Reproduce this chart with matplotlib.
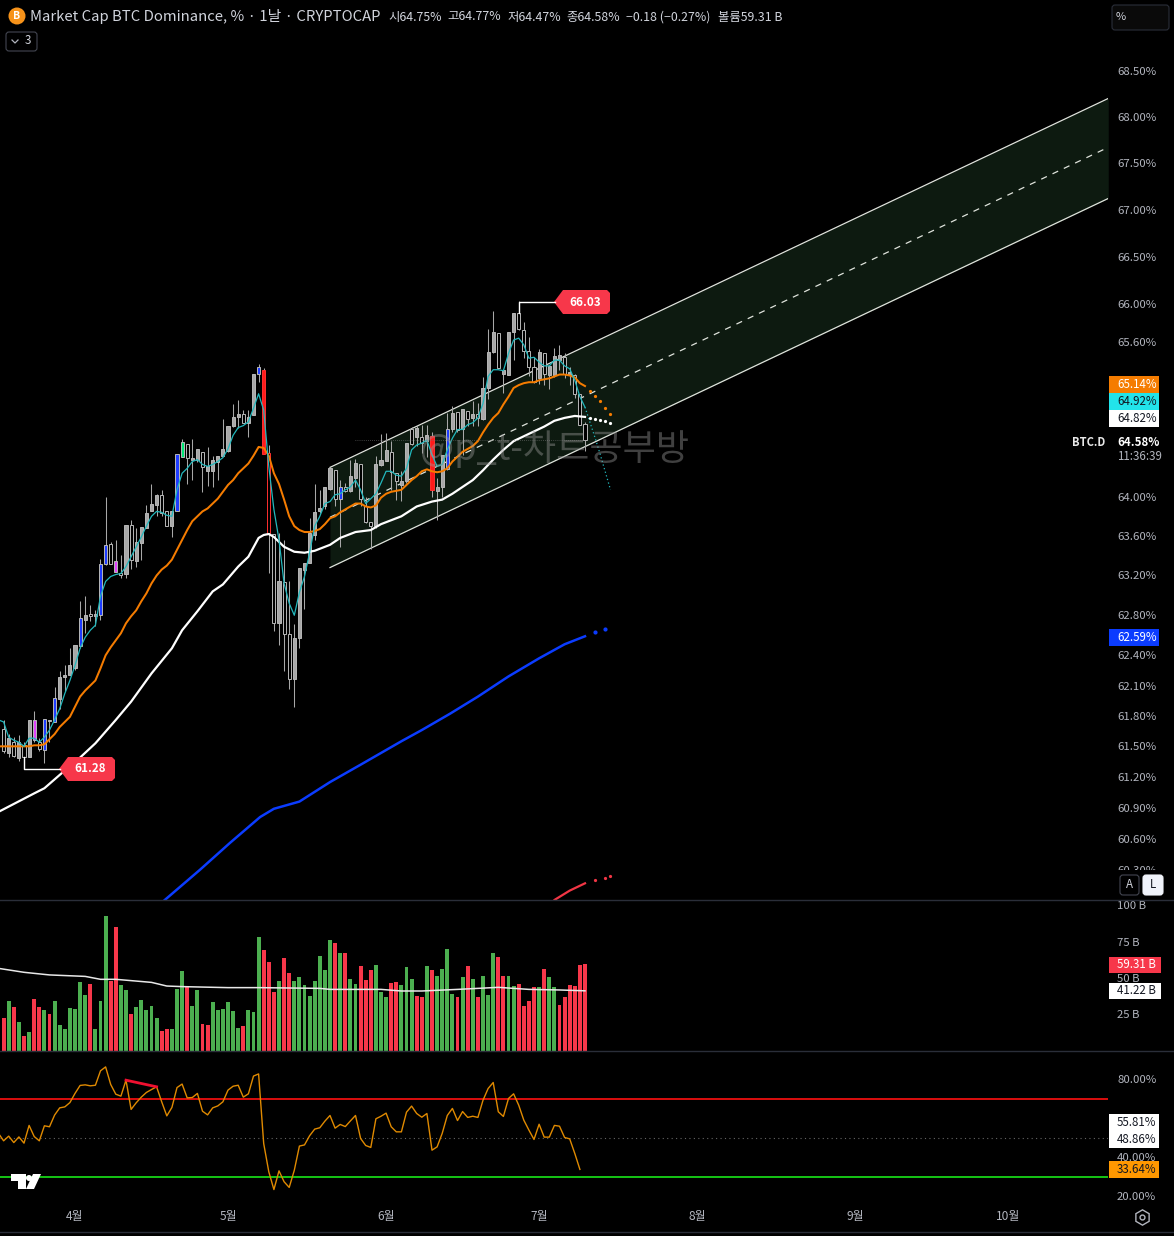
import numpy as np
import matplotlib
matplotlib.use("Agg")
import matplotlib.pyplot as plt
from matplotlib.patches import Rectangle, Polygon, Circle, FancyBboxPatch
from matplotlib.ticker import NullLocator

plt.rcParams['font.family'] = ['Noto Sans CJK KR', 'DejaVu Sans']

# daily candles, index 0 is the leftmost bar on screen
opens = [61.67,61.43,61.54,61.39,61.51,61.40,61.56,61.54,61.46,61.75,
 61.74,61.97,62.18,62.20,62.27,62.49,62.75,62.81,62.79,62.80,
 63.32,63.52,63.24,63.23,63.22,63.71,63.35,63.53,63.68,63.85,
 63.91,64.02,63.85,63.70,63.85,64.41,64.54,64.38,64.38,64.46,
 64.26,64.26,64.36,64.42,64.47,64.73,64.82,64.85,64.76,64.84,
 65.27,65.31,64.45,63.62,62.72,63.13,62.61,62.16,62.57,63.26,
 63.33,63.61,63.85,63.90,64.08,64.27,63.98,64.10,64.06,64.19,
 64.33,63.90,63.74,63.70,64.32,64.37,64.46,64.24,64.12,64.16,
 64.70,64.61,64.61,64.57,64.62,64.06,64.10,64.28,64.69,64.87,
 64.69,64.88,64.81,64.85,64.80,65.12,65.49,65.69,65.27,65.26,
 65.70,65.90,65.73,65.51,65.34,65.22,65.48,65.25,65.25,65.41,
 65.44,65.26,65.26,65.06,64.75]
closes = [61.45,61.58,61.41,61.54,61.40,61.76,61.76,61.47,61.77,61.76,
 61.98,62.18,62.20,62.30,62.50,62.77,62.80,62.79,62.81,63.32,
 63.51,63.32,63.35,63.21,63.71,63.36,63.54,63.69,63.83,63.93,
 64.02,63.83,63.70,63.85,64.44,64.56,64.40,64.40,64.49,64.30,
 64.31,64.38,64.42,64.49,64.73,64.82,64.85,64.76,64.82,65.27,
 65.34,64.44,63.63,62.72,63.14,62.61,62.16,62.57,63.28,63.33,
 63.63,63.84,63.88,64.10,64.29,63.98,64.10,64.06,64.21,64.34,
 63.98,63.74,63.70,64.33,64.38,64.48,64.25,64.16,64.16,64.55,
 64.54,64.71,64.55,64.63,64.07,64.10,64.43,64.70,64.86,64.68,
 64.90,64.80,64.85,64.81,65.12,65.49,65.70,65.33,65.31,65.70,
 65.90,65.74,65.51,65.34,65.18,65.49,65.27,65.35,65.45,65.46,
 65.27,65.29,65.06,64.74,64.58]
highs = [61.76,61.62,61.59,61.61,61.54,61.76,61.85,61.58,61.77,61.76,
 62.09,62.24,62.30,62.47,62.50,62.94,62.99,62.90,62.85,63.37,
 64.00,63.54,63.56,63.41,63.71,63.76,63.68,63.69,63.91,64.13,
 64.03,64.07,63.85,63.85,64.44,64.59,64.54,64.59,64.49,64.46,
 64.51,64.42,64.42,64.80,64.73,64.95,65.00,64.89,64.89,65.27,
 65.37,65.33,64.53,63.62,63.63,63.56,63.14,62.71,63.28,63.33,
 63.78,64.13,64.07,64.10,64.29,64.27,64.17,64.14,64.38,64.39,
 64.33,64.00,63.74,64.42,64.64,64.65,64.57,64.24,64.26,64.55,
 64.72,64.74,64.74,64.74,64.66,64.19,64.43,64.86,64.93,64.87,
 64.90,64.88,64.98,64.96,65.23,65.74,65.93,65.69,65.31,65.70,
 65.90,66.03,65.81,65.65,65.44,65.53,65.48,65.35,65.54,65.57,
 65.48,65.34,65.27,65.06,64.77]
lows = [61.43,61.40,61.40,61.36,61.28,61.40,61.54,61.45,61.34,61.54,
 61.74,61.87,62.05,62.20,62.25,62.47,62.62,62.74,62.69,62.75,
 63.31,63.32,63.24,63.17,63.17,63.27,63.29,63.36,63.68,63.85,
 63.80,63.80,63.70,63.59,63.85,64.41,64.13,64.17,64.36,64.05,
 64.11,64.10,64.17,64.42,64.46,64.72,64.71,64.76,64.61,64.84,
 65.18,64.44,63.23,62.64,62.50,62.24,62.07,61.89,62.47,62.86,
 63.33,63.56,63.83,63.87,64.07,63.90,63.49,64.05,64.05,64.10,
 63.90,63.73,63.47,63.68,64.31,64.37,64.07,63.97,63.96,64.14,
 64.53,64.52,64.45,64.41,64.00,63.76,64.00,64.27,64.66,64.66,
 64.43,64.73,64.73,64.73,64.79,65.01,65.48,65.32,65.07,65.26,
 65.41,65.73,65.43,65.24,65.17,65.16,65.15,65.11,65.23,65.31,
 65.22,65.15,65.02,64.74,64.47]
# bars painted in a special colour
special = {6:'#e040fb', 8:'#1e3cff', 10:'#1e3cff', 15:'#1e3cff', 19:'#1e3cff', 20:'#1e3cff',
           22:'#e040fb', 34:'#1e3cff', 35:'#00e676', 50:'#1e3cff', 51:'#ff1a1a', 66:'#1e3cff',
           84:'#ff1a1a', 87:'#1e3cff'}

# the averages start one bar before the first candle
ema_fast = [61.76,61.74,61.59,61.56,61.54,61.50,61.58,61.58,61.54,61.59,61.66,
 61.76,61.87,62.02,62.15,62.30,62.47,62.58,62.65,62.70,62.99,
 63.14,63.19,63.21,63.22,63.29,63.39,63.49,63.59,63.70,63.80,
 63.85,63.84,63.81,63.80,64.07,64.24,64.29,64.36,64.38,64.33,
 64.31,64.33,64.36,64.40,64.49,64.63,64.71,64.73,64.77,64.91,
 65.06,64.89,64.31,63.87,63.56,63.12,62.92,62.80,63.03,63.19,
 63.43,63.70,63.80,63.93,63.95,64.02,64.03,64.07,64.10,64.17,
 64.07,63.93,63.98,64.03,64.14,64.26,64.26,64.22,64.21,64.29,
 64.48,64.53,64.55,64.58,64.43,64.31,64.33,64.48,64.60,64.69,
 64.69,64.74,64.76,64.81,64.96,65.24,65.31,65.31,65.30,65.48,
 65.62,65.64,65.57,65.43,65.44,65.39,65.35,65.35,65.41,65.41,
 65.35,65.32,65.20,65.03,64.92]
ema_mid = [61.50,61.50,61.50,61.50,61.50,61.50,61.50,61.51,61.51,61.52,61.57,
 61.62,61.69,61.74,61.79,61.89,61.99,62.05,62.10,62.15,62.27,
 62.40,62.48,62.55,62.62,62.72,62.79,62.85,62.94,63.02,63.12,
 63.20,63.26,63.30,63.36,63.46,63.56,63.66,63.75,63.80,63.85,
 63.88,63.93,63.98,64.05,64.12,64.17,64.24,64.29,64.34,64.42,
 64.51,64.50,64.42,64.24,64.13,63.97,63.80,63.70,63.66,63.64,
 63.64,63.65,63.67,63.72,63.78,63.80,63.84,63.87,63.90,63.93,
 63.93,63.90,63.89,63.91,63.99,64.03,64.05,64.06,64.07,64.12,
 64.17,64.21,64.26,64.28,64.26,64.25,64.26,64.29,64.36,64.41,
 64.46,64.49,64.52,64.57,64.66,64.74,64.81,64.86,64.95,65.03,
 65.12,65.15,65.17,65.18,65.18,65.20,65.21,65.22,65.24,65.26,
 65.26,65.25,65.23,65.17,65.14]
ema_slow_idx = [-1,6,8,11,15,18,22,25,29,33,35,38,41,43,46,48,50,51,52,53,55,57,59,61,62,64,66,69,72,74,76,78,81,84,86,88,92,94,96,98,100,102,104,106,108,110,112,114]
ema_slow = [60.86,61.04,61.09,61.22,61.39,61.53,61.76,61.94,62.22,62.47,62.65,62.84,63.04,63.11,63.29,63.39,63.58,63.61,63.62,63.59,63.49,63.44,63.43,63.45,63.47,63.51,63.58,63.64,63.66,63.72,63.76,63.80,63.90,63.95,63.97,64.03,64.17,64.27,64.38,64.48,64.57,64.62,64.67,64.72,64.78,64.81,64.83,64.82]
ma_blue_idx = [31.6,38.5,44.4,50.3,53,58,64,70,78,82,87.5,93,99,105,110,114]
ma_blue = [60.01,60.30,60.56,60.81,60.89,60.96,61.15,61.32,61.55,61.66,61.82,61.99,62.19,62.37,62.51,62.59]
ma_red_idx = [106,108,111,114]
ma_red = [59.9,60.01,60.10,60.17]

# projected points after the last bar
proj_idx = [115,116,117,118,119]
proj_fast = [64.76,64.60,64.43,64.25,64.07]
proj_mid = [65.09,65.04,64.98,64.91,64.85]
proj_slow = [64.81,64.80,64.79,64.78,64.76]
proj_blue_idx = [116,118]
proj_blue = [62.63,62.66]
proj_red_idx = [116,118,119]
proj_red = [60.20,60.22,60.24]

# parallel channel, start and end
chan_x = [64,216.6]
chan_up = [64.30,68.20]
chan_mid = [63.79,67.67]
chan_lo = [63.28,67.12]

# volume also has one extra bar on the left edge
volume = [25.8,22.4,34.2,30.1,19.9,10.3,13.0,35.6,30.1,28.1,25.3,
 34.2,17.8,15.1,29.5,28.8,47.3,38.4,45.9,15.1,34.2,
 92.5,47.9,84.9,45.2,41.8,25.3,30.1,34.9,28.1,30.8,
 22.6,13.7,15.1,15.1,42.5,54.8,43.8,30.8,41.8,18.5,
 17.8,33.6,28.1,28.8,33.6,27.4,15.8,17.1,28.1,26.7,
 78.1,69.2,61.0,40.4,47.9,63.7,53.4,47.9,50.7,45.2,
 37.7,47.9,65.1,55.5,76.0,74.0,67.1,67.1,49.3,45.9,
 58.2,48.6,55.5,58.9,40.4,37.0,46.6,47.3,45.2,57.5,
 49.3,37.7,37.0,58.2,55.5,51.4,56.2,69.9,39.0,37.0,
 50.7,58.2,49.3,37.0,51.4,38.4,67.1,64.4,51.4,51.4,
 44.5,45.9,30.8,34.2,43.8,43.8,56.2,50.7,43.8,31.5,
 37.0,45.2,44.5,58.9,59.31]
vol_dir = ("r" "rgrgrgrrgr" "gggggggrgg" "grrggrgggg" "grrgggrggr" "rggggggrgg"
           "grrrgrrggg" "gggggrgrgg" "rrrgggrrgg" "grrgrggggr" "grgrgggrrg"
           "grrrrgrggr" "rrrrr")
vol_ma_idx = [-1,4,9,16,19,22,29,32,35,44,50,62,64,74,78,82,89,97,103,109,114]
vol_ma = [56.6,53.9,52.1,51.1,49.1,49.1,47.0,44.5,44.1,43.4,43.4,42.9,42.2,42.2,41.1,41.1,42.2,43.6,42.2,41.8,41.22]

# rsi starts one bar before the first candle and stops one bar before the last
rsi = [52.1,48.3,50.7,47.4,50.3,47.1,56.2,50.5,48.3,56.0,55.5,
 61.5,65.2,65.7,67.9,72.6,76.7,77.0,76.5,76.8,84.2,
 86.2,77.2,72.2,71.2,79.4,64.4,67.8,70.7,73.1,74.6,
 76.0,68.3,61.1,65.4,75.6,77.4,70.3,70.5,72.6,63.5,
 61.6,65.2,66.2,68.3,74.3,76.3,76.8,70.7,72.4,81.5,
 82.6,46.9,32.4,23.3,32.9,27.3,24.4,33.2,45.6,46.2,
 50.9,54.3,55.0,58.4,61.3,54.8,56.7,55.6,58.5,61.3,
 49.5,45.9,44.9,59.6,60.9,62.5,55.5,52.9,52.9,63.0,
 66.1,62.3,60.4,62.3,43.5,45.2,52.1,61.3,64.9,58.7,
 63.3,60.3,60.9,60.3,69.1,75.1,78.2,63.2,60.8,70.0,
 72.4,66.6,58.9,53.8,49.0,56.8,50.2,50.2,56.2,55.8,
 50.0,49.3,41.8,33.64]
rsi_div_idx = [24,30]
rsi_div = [79.4,76.0]

price_ticks = [68.5,68.0,67.5,67.0,66.5,66.0,65.6,64.0,63.6,63.2,62.8,62.4,62.1,61.8,61.5,61.2,60.9,60.6,60.3]
vol_ticks = [25,50,75,100]
rsi_ticks = [20,40,60,80]
month_idx = [14,44,75,105,136,167,197]
month_labels = ['4월','5월','6월','7월','8월','9월','10월']

W, H = 1174, 1236
BG = '#000000'
GRAY = '#b2b5be'
RED = '#f7374a'
GREEN = '#4caf50'
ORANGE = '#f57c00'
xlim = (-3.6/5.1, (1108-3.6)/5.1)

def pane(top, bottom):
    a = fig.add_axes([0, 1-bottom/H, 1108/W, (bottom-top)/H])
    a.set_facecolor(BG)
    for s in a.spines.values():
        s.set_visible(False)
    a.set_xlim(*xlim)
    a.yaxis.tick_right()
    a.tick_params(axis='y', length=0, pad=6.5, labelcolor=GRAY, labelsize=8.2)
    a.set_xticks([])
    return a

fig = plt.figure(figsize=(W/100, H/100), dpi=100, facecolor=BG)

# price pane
ax = pane(0, 900)
ax.set_yscale('log')
ax.set_ylim(60.01, 69.28)
ax.yaxis.set_minor_locator(NullLocator())
ax.set_yticks(price_ticks)
ax.set_yticklabels([f'{v:.2f}%' for v in price_ticks])

ax.fill_between(chan_x, chan_lo, chan_up, color='#0d1a10', lw=0, zorder=1)
ax.plot(chan_x, chan_up, color='#dfe3dc', lw=0.9, zorder=2)
ax.plot(chan_x, chan_lo, color='#dfe3dc', lw=0.9, zorder=2)
ax.plot(chan_x, chan_mid, color='#dfe3dc', lw=0.9, ls=(0, (5, 5)), zorder=2)

xs = np.arange(len(opens))
ema_x = np.arange(-1, len(opens))
ax.vlines(xs, lows, highs, color='#a8a8a8', lw=0.75, zorder=3)
for i in xs:
    o, c = opens[i], closes[i]
    up = c >= o
    face = special.get(i, '#a8a8a8' if up else BG)
    edge = '#b8b8b8'
    if i in (51, 52, 84):
        edge = '#ff3030'
    ax.bar(i, max(abs(c-o), 0.012), bottom=min(o, c), width=0.6, facecolor=face, edgecolor=edge, lw=0.7, zorder=4)

ax.plot(ma_red_idx, ma_red, color='#f23645', lw=1.6, zorder=5)
ax.plot(ma_blue_idx, ma_blue, color='#0b3cff', lw=1.8, zorder=5)
ax.plot(ema_slow_idx, ema_slow, color='white', lw=1.6, zorder=6)
ax.plot(ema_x, ema_mid, color='#f57c00', lw=1.45, zorder=6)
ax.plot(ema_x, ema_fast, color='#22b8bd', lw=0.9, zorder=6)

ax.plot([114]+proj_idx, [ema_fast[-1]]+proj_fast, color='#22b8bd', lw=0.9, ls=(0, (1, 2)), zorder=6)
ax.plot(proj_idx, proj_mid, ls='', marker='o', ms=1.3, color='#f57c00', zorder=6)
ax.plot(proj_idx, proj_slow, ls='', marker='o', ms=1.3, color='white', zorder=6)
ax.plot(proj_blue_idx, proj_blue, ls='', marker='o', ms=2, color='#0b3cff', zorder=6)
ax.plot(proj_red_idx, proj_red, ls='', marker='o', ms=1.3, color='#f23645', zorder=6)
ax.plot([69, 114], [closes[-1], closes[-1]], color='#777777', lw=0.5, ls=(0, (1, 2)), zorder=6)

# volume pane
vx = pane(901, 1051)
vx.set_ylim(0, 150/1.46)
vx.bar(ema_x, volume, width=0.76, color=[RED if d == 'r' else GREEN for d in vol_dir], lw=0)
vx.plot(vol_ma_idx, vol_ma, color='#e8e8e8', lw=1.1)
vx.set_yticks(vol_ticks)
vx.set_yticklabels([f'{v} B' for v in vol_ticks])

# rsi pane
rx = pane(1052, 1200)
rx.set_ylim(80-121/1.95, 80+27/1.95)
rx.axhline(70, color='#ff1010', lw=1.2)
rx.axhline(30, color='#19e619', lw=1.2)
rx.axhline(50, color='#666666', lw=0.8, ls=(0, (1, 3)))
rx.plot(np.arange(len(rsi))-1, rsi, color='#e08a00', lw=1.0)
rx.plot(rsi_div_idx, rsi_div, color='#f01030', lw=2.0)
rx.set_yticks(rsi_ticks)
rx.set_yticklabels([f'{v:.2f}%' for v in rsi_ticks])
rx.set_xticks(month_idx)
rx.set_xticklabels(month_labels, color=GRAY, fontsize=8.6)
rx.tick_params(axis='x', length=0, pad=7.5)

# overlay in pixel coords for labels and buttons
ov = fig.add_axes([0, 0, 1, 1], zorder=10)
ov.set_xlim(0, W)
ov.set_ylim(H, 0)
ov.axis('off')

def txt(x, y, s, size=8.3, color=GRAY, ha='left', **kw):
    ov.text(x, y, s, fontsize=size, color=color, ha=ha, va='center', **kw)

def tag(y0, y1, s, bg, fg, x1=1159):
    ov.add_patch(Rectangle((1109, y0), x1-1109, y1-y0, fc=bg, lw=0))
    txt(1117, (y0+y1)/2, s, color=fg)

def price_flag(x0, y, s):
    ov.add_patch(Polygon([(x0-6, y), (x0+3, y-12), (x0+47, y-12), (x0+50, y-9), (x0+50, y+9), (x0+47, y+12), (x0+3, y+12)], fc=RED, lw=0))
    txt(x0+25, y, s, color='white', ha='center', fontweight='bold', size=8.4)

for yy in (900, 1051, 1232):
    ov.plot([0, W], [yy, yy], color='#2a2e39', lw=1)
ov.add_patch(Rectangle((1109, 870), 65, 30, fc=BG, lw=0))

ov.text(420, 449, '@p_t-차트공부방', fontsize=26, color='#9a9a9a', alpha=0.42, va='center', ha='left', fontweight='light')

ov.plot([519, 519, 555], [313, 302, 302], color='white', lw=1)
price_flag(560, 302, '66.03')
ov.plot([24, 24, 60], [757, 769, 769], color='white', lw=1)
price_flag(65, 769, '61.28')

tag(376, 393, '65.14%', ORANGE, 'white')
tag(393, 410, '64.92%', '#22e3ea', '#131722')
tag(410, 427, '64.82%', 'white', '#131722')
txt(1105, 442, 'BTC.D', color='#e8e8e8', ha='right', fontweight='bold', size=8)
txt(1117, 442, '64.58%', color='white', fontweight='bold')
txt(1117, 456, '11:36:39', color=GRAY)
tag(629, 646, '62.59%', '#0b3cff', 'white')
tag(957, 973, '59.31 B', RED, 'white', x1=1161)
tag(983, 999, '41.22 B', 'white', '#131722', x1=1161)
tag(1114, 1131, '55.81%', 'white', '#131722')
tag(1131, 1148, '48.86%', 'white', '#131722')
tag(1161, 1178, '33.64%', '#ff9800', '#131722')

# header
ov.add_patch(Circle((17, 16), 8.5, fc='#f7931a', lw=0))
txt(17, 16, 'B', size=7.5, color='white', ha='center', fontweight='bold')
txt(30, 16, 'Market Cap BTC Dominance, % · 1날 · CRYPTOCAP', size=10.7, color='#d1d4dc')
for x, s in [(388, '시64.75%'), (447, '고64.77%'), (507, '저64.47%'), (566, '종64.58%'), (626, '−0.18 (−0.27%)'), (718, '볼륨59.31 B')]:
    txt(x, 17, s, size=8.9, color='#d1d4dc')
ov.add_patch(FancyBboxPatch((6, 32), 31, 19, boxstyle='round,pad=0,rounding_size=3', fc=BG, ec='#434651', lw=0.8))
ov.plot([12, 15, 18], [40, 43, 40], color=GRAY, lw=0.9)
txt(25, 41, '3', color='#d1d4dc')
ov.add_patch(FancyBboxPatch((1112, 5), 57, 25, boxstyle='round,pad=0,rounding_size=3', fc='#0a0a0a', ec='#2a2e39', lw=0.8))
txt(1116, 17, '%', size=8, color='#d1d4dc')

# A and L buttons
ov.add_patch(FancyBboxPatch((1120, 875), 19, 20, boxstyle='round,pad=0,rounding_size=3', fc=BG, ec='#434651', lw=0.8))
txt(1129.5, 885, 'A', color='#d1d4dc', ha='center')
ov.add_patch(FancyBboxPatch((1143, 875), 20, 20, boxstyle='round,pad=0,rounding_size=3', fc='#f0f3fa', ec='#f0f3fa', lw=0.8))
txt(1153, 885, 'L', color='#131722', ha='center')

# tradingview logo
ov.add_patch(Polygon([(11, 1174), (26, 1174), (26, 1189), (18, 1189), (18, 1181), (11, 1181)], fc='white', lw=0))
ov.add_patch(Circle((29, 1178), 3, fc='white', lw=0))
ov.add_patch(Polygon([(33, 1174), (41, 1174), (34, 1189), (26, 1189)], fc='white', lw=0))

# settings icon
ov.plot([1142], [1217], marker='h', ms=11, mfc='none', mec=GRAY, mew=1)
ov.plot([1142], [1217], marker='o', ms=3.5, mfc='none', mec=GRAY, mew=1)

fig.savefig('out.png', dpi=100, facecolor=BG)
